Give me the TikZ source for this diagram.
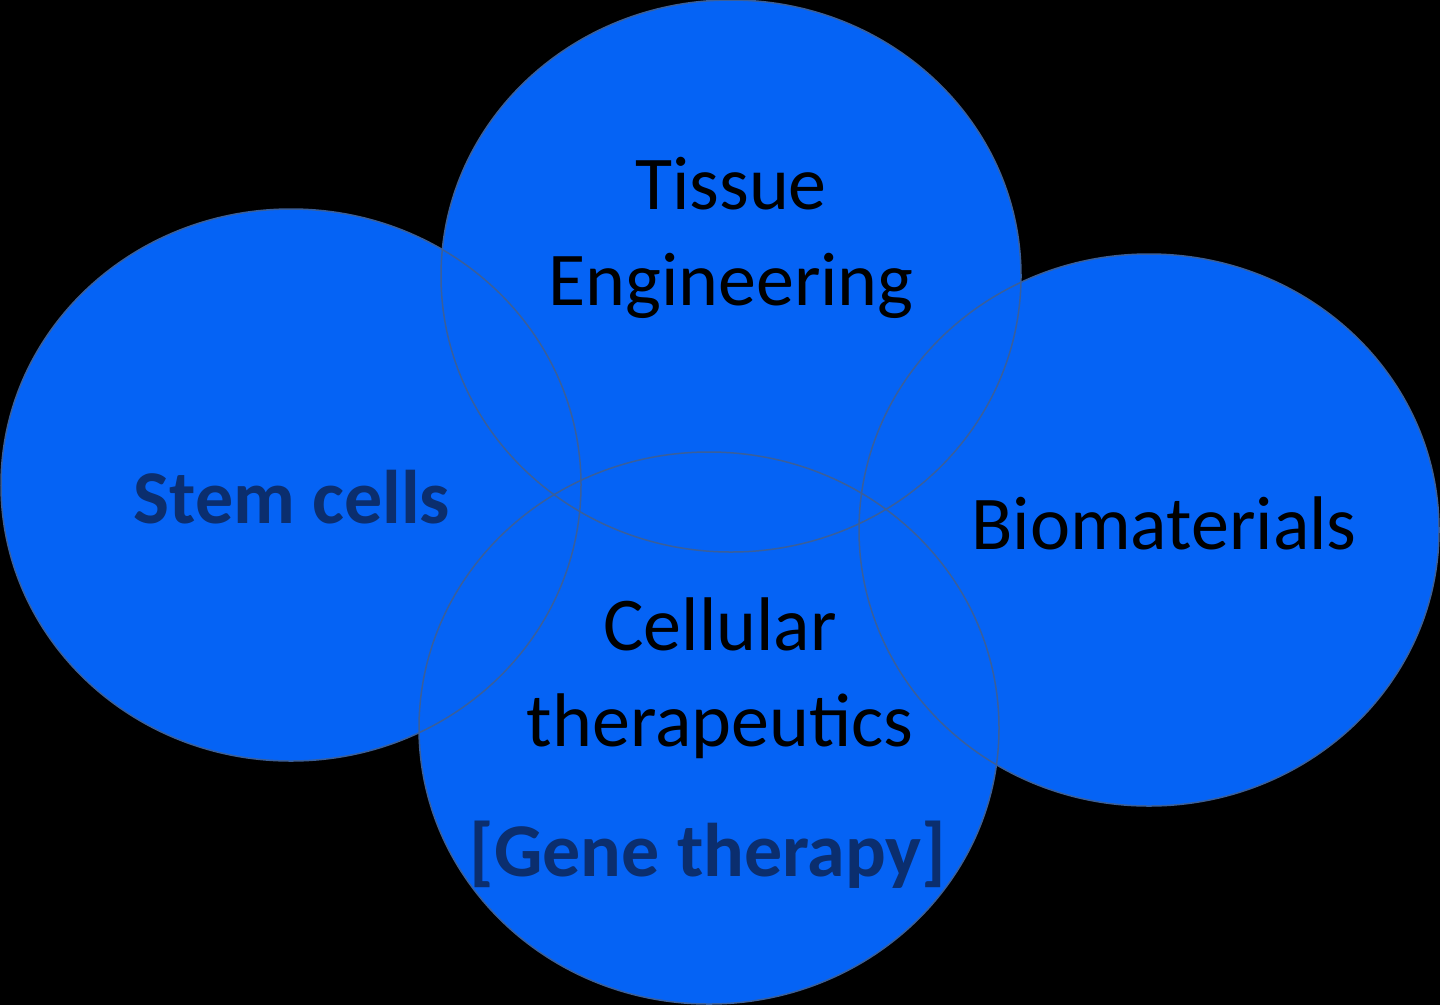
\documentclass[tikz,border=0pt]{standalone}
\usepackage{fontspec}
\setmainfont{Carlito}
\begin{document}
\begin{tikzpicture}[x=1pt,y=-1pt,
  bl/.style={fill=blobblue,draw=none},
  ol/.style={draw=rimgray,line width=1.5pt},
  lab/.style={font=\fontsize{76}{96}\selectfont,text=black,align=center},
  blab/.style={font=\fontsize{76}{96}\selectfont\bfseries,text=navy,align=center}]
\definecolor{blobblue}{HTML}{0563F5}
\definecolor{rimgray}{HTML}{3A5F9A}
\definecolor{navy}{HTML}{0B2E6E}
\fill[black] (0,0) rectangle (1440,1005);
\useasboundingbox (0,0) rectangle (1440,1005);
\coordinate (cT) at (731,276);
\coordinate (cL) at (291,485);
\coordinate (cR) at (1149,530);
\coordinate (cB) at (709,728);
\foreach \c in {cT,cL,cR,cB} \fill[blobblue] (\c) ellipse [x radius=290, y radius=276];
\foreach \c in {cT,cL,cR,cB} \draw[ol] (\c) ellipse [x radius=290, y radius=276];
\node[lab] (t) at (731,238) {Tissue\\Engineering};
\node[blab] (s) at (292,497) {Stem cells};
\node[lab] (b) at (1164,523) {Biomaterials};
\node[lab] (c) at (720,678) {Cellular\\therapeutics};
\node[blab] (g) at (708,855) {[Gene therapy]};
\end{tikzpicture}
\end{document}
